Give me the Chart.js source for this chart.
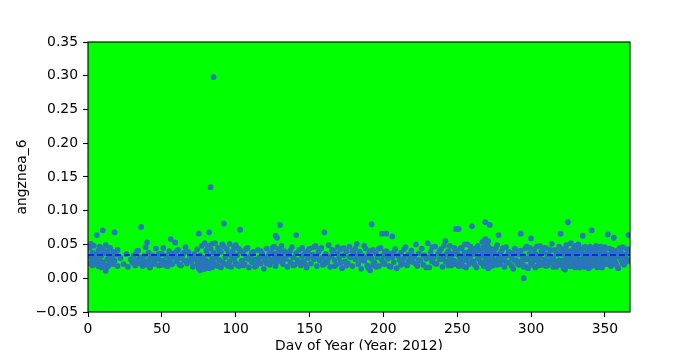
<!DOCTYPE html>
<html>
<head>
<meta charset="utf-8">
<script src="https://cdn.jsdelivr.net/npm/chart.js@4"></script>
<style>html,body{margin:0;padding:0;background:#fff;}canvas{display:block;}</style>
</head>
<body>
<canvas id="c" width="700" height="350"></canvas>
<script>
// Values per day of year (index 0 = day 1); some days carry several samples
const dailyValues = [
 [0.022,0.045],[0.031,0.051],[0.019,0.038,0.027],[0.027,0.048],[0.035,0.021],
 [0.064,0.029],[0.041,0.018],[0.025,0.047,0.036],[0.033,0.016],[0.071,0.024,0.044],
 [0.037,0.020],[0.011,0.049],[0.028,0.040,0.017],[0.019,0.034],[0.045,0.023,0.032],
 [0.030],[0.021,0.039],[0.068,0.026],[0.035],[0.018,0.042],
 [],[0.030],[],[0.021],[],[0.036],[0.017],[],[0.028],[0.024],
 [0.034,0.022],[0.019],[0.027,0.040],[0.041],[0.022,0.031],[0.076,0.030],[0.018,0.026],[0.033],[0.025,0.046],[0.053,0.020],
 [0.038,0.024],[0.016,0.030],[0.029],[0.034,0.021],[0.022],[0.044,0.028],[0.031],[0.019,0.036],[0.027],[0.036,0.020],
 [0.045,0.026],[0.024],[0.033,0.019],[0.018],[0.040,0.025],[0.058,0.028],[0.021,0.034],[0.037],[0.053,0.032],[0.025,0.040],
 [0.042],[0.030,0.020],[0.019],[0.035],[0.027,0.038],[0.046],[0.022],[0.039,0.026],[0.031],[0.024],
 [0.017,0.029],[0.036],[0.028],[0.043,0.021],[0.066,0.020,0.015,0.030],[0.034,0.012,0.024],[0.048,0.022,0.016],[0.019,0.030,0.014],[0.052,0.014,0.025],[0.026,0.041,0.018],
 [0.035,0.017,0.048],[0.068,0.023,0.015],[0.135,0.044,0.020],[0.029,0.016,0.051],[0.298,0.038,0.022],[0.021,0.052,0.030],[0.033,0.019],[0.045,0.018],[0.027,0.040],[0.039,0.016],
 [0.024,0.050],[0.081,0.047,0.022],[0.031],[0.020,0.043],[0.036,0.018],[0.025,0.051],[0.017,0.033],[0.040],[0.029,0.046],[0.049,0.022],
 [0.034,0.020],[0.018,0.044],[0.072,0.041],[0.026],[0.037,0.019],[0.021],[0.030,0.043],[0.045],[0.016,0.028],[0.033],
 [0.024,0.038],[0.039],[0.028,0.017],[0.019],[0.042,0.026],[0.031],[0.022,0.040],[0.036],[0.014,0.030],[0.027],
 [0.044,0.022],[0.033],[0.020,0.037],[0.038,0.026],[0.025,0.045],[0.047,0.030],[0.063,0.018,0.036],[0.060,0.035,0.024],[0.043,0.029],[0.079,0.026,0.040],
 [0.032,0.048],[0.021],[0.040,0.028],[0.029],[0.017,0.036],[0.035],[0.024,0.041],[0.046],[0.031,0.019],[0.020],
 [0.064,0.037],[0.027],[0.042,0.023],[0.019],[0.033,0.045],[0.025],[0.038,0.021],[0.016],[0.030,0.041],[0.044],
 [0.022,0.034],[0.035],[0.028,0.046],[0.048],[0.018,0.031],[0.039],[0.026,0.043],[0.045],[0.031,0.020],[0.068,0.021],
 [0.036,0.025],[0.024],[0.049,0.030],[0.017],[0.033,0.042],[0.041],[0.027,0.018],[0.020],[0.037,0.046],[0.030],
 [0.043,0.023],[0.015],[0.034,0.045],[0.025],[0.040,0.019],[0.022],[0.047,0.032],[0.031],[0.018,0.040],[0.036],
 [0.028,0.044],[0.051],[0.021,0.033],[0.039],[0.014,0.027],[0.033],[0.026,0.048],[0.044],[0.019,0.031],[0.035,0.015],
 [0.012,0.040],[0.080,0.029],[0.042,0.020],[0.023],[0.037,0.017],[0.031],[0.018,0.044],[0.045],[0.066,0.027],[0.034,0.022],
 [0.021,0.039],[0.066,0.040],[0.029],[0.036,0.018],[0.017],[0.062,0.031],[0.024,0.038],[0.043],[0.015],[0.033],
 [0.027],[0.038,0.020],[0.022],[0.030,0.043],[0.046],[0.019],[0.035,0.024],[0.028],[0.041],[0.024,0.033],
 [0.032],[0.050,0.021],[0.018],[0.037,0.027],[0.026],[0.044],[0.020,0.034],[0.034],[0.029,0.016],[0.052],
 [0.016,0.031],[0.039],[0.025,0.046],[0.031],[0.047,0.022],[0.021],[0.036],[0.028,0.040],[0.043],[0.017,0.029],
 [0.033,0.048],[0.055,0.025],[0.024,0.036],[0.040,0.019],[0.030,0.048,0.022],[0.019,0.034],[0.036,0.026],[0.026,0.045],[0.073,0.041,0.021],[0.022,0.036],
 [0.073,0.034,0.018],[0.029,0.044],[0.045,0.024],[0.018,0.033],[0.038,0.050],[0.027,0.016],[0.050,0.031],[0.021,0.039],[0.033,0.047],[0.077,0.043,0.025],
 [0.025,0.036],[0.037,0.020],[0.016,0.045],[0.048,0.029],[0.030,0.041],[0.041,0.023],[0.022,0.054,0.034],[0.035,0.018,0.046],[0.083,0.045,0.027,0.058,0.035],[0.039,0.020,0.050,0.030],
 [0.031,0.047,0.015,0.055],[0.079,0.036,0.024,0.044],[0.043,0.028,0.018],[0.019,0.033],[0.037,0.022],[0.026,0.044],[0.049,0.020],[0.064,0.032,0.024],[0.021,0.037],[0.040,0.027],
 [0.029,0.045],[0.017,0.031],[0.046,0.024],[0.034],[0.023,0.039],[0.038],[0.030,0.018],[0.014,0.036],[0.044,0.026],[0.027],
 [0.036,0.021],[0.020,0.040],[0.066,0.041,0.025],[0.025,0.033],[0.000,0.033,0.017],[0.018,0.044],[0.047,0.028],[0.029,0.015],[0.037,0.045],[0.059,0.022,0.032],
 [0.034,0.020],[0.043,0.027],[0.016,0.036],[0.031,0.047],[0.026,0.019],[0.048,0.033],[0.020,0.040],[0.039,0.024],[0.028,0.045],[0.045,0.018],
 [0.019,0.035],[0.035,0.026],[0.024,0.042],[0.051,0.030],[0.030,0.017],[0.042,0.025],[0.017,0.038],[0.036,0.023],[0.027,0.047],[0.066,0.044,0.020],
 [0.021,0.036],[0.038,0.027,0.015],[0.013,0.044],[0.032,0.049,0.022],[0.083,0.025,0.037],[0.040,0.018],[0.029,0.052,0.035],[0.018,0.041,0.026],[0.045,0.021],[0.034,0.048,0.016],
 [0.023,0.039,0.030],[0.050,0.037,0.019],[0.016,0.028,0.044],[0.041,0.022],[0.063,0.028,0.036],[0.035,0.017,0.046],[0.020,0.046,0.030],[0.031,0.024,0.043],[0.039,0.024,0.015],[0.017,0.033,0.047],
 [0.071,0.043,0.027],[0.027,0.038,0.019],[0.036,0.019,0.045],[0.048,0.025,0.032],[0.030,0.016,0.041],[0.022,0.040,0.031],[0.034,0.047,0.020],[0.045,0.016,0.029],[0.026,0.037],[0.038,0.021,0.046],
 [0.021,0.033],[0.065,0.033,0.024],[0.044,0.027],[0.018,0.036],[0.029,0.042],[0.060,0.037,0.022],[0.024,0.031],[0.041,0.019],[0.015,0.034],[0.032,0.045],
 [0.027,0.038],[0.046,0.022],[0.020,0.033],[0.035,0.024],[0.028,0.043],[0.064,0.039,0.026]
];
const meanValue = 0.0345;
const xTicks = [0,50,100,150,200,250,300,350];
const yTicks = [-0.05,0,0.05,0.10,0.15,0.20,0.25,0.30,0.35];
const yTickLabels = ['\u22120.05','0.00','0.05','0.10','0.15','0.20','0.25','0.30','0.35'];
const xRange = [0,367];
const yRange = [-0.05,0.35];

const points = [];
dailyValues.forEach((vals,i)=>vals.forEach(v=>points.push({x:i+1,y:v})));

Chart.defaults.color = '#000';
Chart.defaults.font.family = '"DejaVu Sans", sans-serif';
Chart.defaults.font.size = 13.9;

const bgFrame = {
  id:'bgFrame',
  beforeDatasetsDraw(chart){
    const {ctx, chartArea:a} = chart;
    ctx.save(); ctx.fillStyle='#00ff00';
    ctx.fillRect(a.left,a.top,a.right-a.left,a.bottom-a.top); ctx.restore();
  },
  afterDraw(chart){
    const {ctx, chartArea:a} = chart;
    ctx.save(); ctx.strokeStyle='#000'; ctx.lineWidth=1.1;
    ctx.strokeRect(a.left,a.top,a.right-a.left,a.bottom-a.top); ctx.restore();
  }
};

new Chart(document.getElementById('c'),{
  type:'scatter',
  data:{datasets:[
    {type:'line',data:[{x:xRange[0],y:meanValue},{x:xRange[1],y:meanValue}],borderColor:'#0a2ae8',borderWidth:2.1,borderDash:[6,3],pointRadius:0,order:0},
    {data:points,backgroundColor:'#2878b8',borderWidth:0,pointRadius:2.9,order:1}
  ]},
  options:{
    responsive:false,animation:false,
    layout:{padding:{left:0,right:70,top:42,bottom:0}},
    plugins:{legend:{display:false},tooltip:{enabled:false}},
    scales:{
      x:{type:'linear',min:xRange[0],max:xRange[1],
        afterBuildTicks(s){s.ticks=xTicks.map(v=>({value:v}));},
        afterFit(s){s.height=38;},
        ticks:{padding:4,maxRotation:0,callback:v=>String(v)},
        grid:{drawOnChartArea:false,drawTicks:true,tickLength:5,tickColor:'#000',tickWidth:1.1},
        border:{display:false},
        title:{display:true,text:'Day of Year (Year: 2012)',font:{size:13.9,lineHeight:1},padding:{top:0,bottom:-3}}
      },
      y:{type:'linear',min:yRange[0],max:yRange[1],
        afterBuildTicks(s){s.ticks=yTicks.map(v=>({value:v}));},
        afterFit(s){s.width=88;},
        ticks:{padding:5,callback:(v,i)=>yTickLabels[i]},
        grid:{drawOnChartArea:false,drawTicks:true,tickLength:5,tickColor:'#000',tickWidth:1.1},
        border:{display:false},
        title:{display:true,text:'angznea_6',font:{size:13.9,lineHeight:1.2},padding:{top:14,bottom:0}}
      }
    }
  },
  plugins:[bgFrame]
});
</script>
</body>
</html>
